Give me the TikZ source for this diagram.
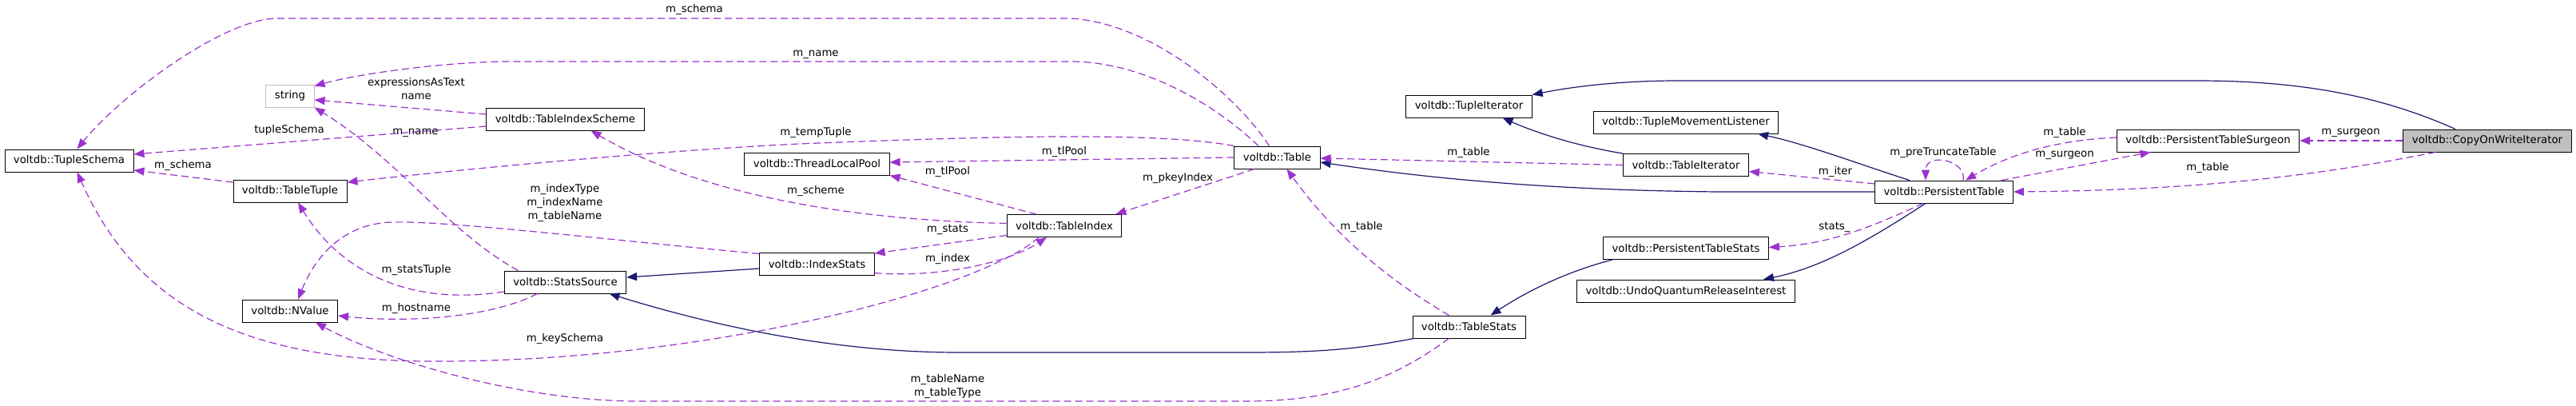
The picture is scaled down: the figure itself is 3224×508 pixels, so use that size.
\documentclass[tikz,border=0pt]{standalone}
\usepackage{fontspec}
\setmainfont{DejaVu Sans}
\usepackage{tikz}
\usetikzlibrary{positioning, arrows.meta}
\usepackage{xcolor}

\definecolor{edgeuse}{HTML}{9A32CD}
\definecolor{edgeinh}{HTML}{191970}
\definecolor{nodegray}{HTML}{BFBFBF}
\newcommand{\dgfont}{\fontsize{13.3}{17}\selectfont}

\tikzset{
    cls/.style={draw=black, line width=0.9pt, rectangle, minimum height=28pt,
        inner xsep=11pt, inner ysep=0pt, font=\dgfont},
    extcls/.style={cls, draw=nodegray},
    curcls/.style={cls, fill=nodegray},
    lbl/.style={font=\dgfont, inner sep=0pt, align=center},
    useedge/.style={draw=edgeuse, line width=1.2pt, dash pattern=on 9pt off 5pt,
        -{Triangle[length=13pt, width=10pt]}},
    inhedge/.style={draw=edgeinh, line width=1.2pt,
        -{Triangle[length=13pt, width=10pt]}}
}

\begin{document}
\begin{tikzpicture}[x=1pt, y=-1pt, on grid]
    \useasboundingbox (0,0) rectangle (3224,508);

    \node[cls] (tschema) at (86.5,201) {voltdb::TupleSchema};
    \node[extcls] (str) [above right=81pt and 276.5pt of tschema] {string};
    \node[cls] (ttuple) [below=119pt of str] {voltdb::TableTuple};
    \node[cls] (nvalue) [below=150pt of ttuple] {voltdb::NValue};
    \node[cls] (idxscheme) [below right=29pt and 344.5pt of str] {voltdb::TableIndexScheme};
    \node[cls] (statssrc) [below=204pt of idxscheme] {voltdb::StatsSource};
    \node[cls] (tlpool) [below right=56pt and 315pt of idxscheme] {voltdb::ThreadLocalPool};
    \node[cls] (idxstats) [below=125.5pt of tlpool] {voltdb::IndexStats};
    \node[cls] (tindex) [above right=48pt and 309.5pt of idxstats] {voltdb::TableIndex};
    \node[cls] (table) [above right=85.5pt and 266.5pt of tindex] {voltdb::Table};
    \node[cls] (tstats) [below right=212pt and 240pt of table] {voltdb::TableStats};
    \node[cls] (tupleit) [above=276pt of tstats] {voltdb::TupleIterator};
    \node[cls] (tableit) [below right=73.5pt and 271.5pt of tupleit] {voltdb::TableIterator};
    \node[cls] (tmlistener) [above=53.5pt of tableit] {voltdb::TupleMovementListener};
    \node[cls] (ptstats) [below=104pt of tableit] {voltdb::PersistentTableStats};
    \node[cls] (uqri) [below=53.5pt of ptstats] {voltdb::UndoQuantumReleaseInterest};
    \node[cls] (ptable) [below right=33.5pt and 323pt of tableit] {voltdb::PersistentTable};
    \node[cls] (surgeon) [above right=64pt and 330.5pt of ptable] {voltdb::PersistentTableSurgeon};
    \node[curcls] (cow) [right=349.5pt of surgeon] {voltdb::CopyOnWriteIterator};

    % member labels
    \node[lbl] (l-tschema) at (869,12) {m\_schema};
    \node[lbl] (l-tname) at (1021,68) {m\_name};
    \node[lbl] (l-exprs) at (521,111.5) {expressionsAsText\\name};
    \node[lbl] (l-ssname) at (520,166) {m\_name};
    \node[lbl] (l-tupschema) at (362,163) {tupleSchema};
    \node[lbl] (l-ttschema) at (229,207) {m\_schema};
    \node[lbl] (l-temptuple) at (1021,166) {m\_tempTuple};
    \node[lbl] (l-tlpool) at (1332,190) {m\_tlPool};
    \node[lbl] (l-itlpool) at (1186,215) {m\_tlPool};
    \node[lbl] (l-scheme) at (1021,239) {m\_scheme};
    \node[lbl] (l-pkey) at (1474,223) {m\_pkeyIndex};
    \node[lbl] (l-stats) at (1186,287) {m\_stats};
    \node[lbl] (l-index) at (1186,324) {m\_index};
    \node[lbl] (l-idxnames) at (707,254) {m\_indexType\\m\_indexName\\m\_tableName};
    \node[lbl] (l-statstuple) at (521,338) {m\_statsTuple};
    \node[lbl] (l-host) at (521,386) {m\_hostname};
    \node[lbl] (l-keyschema) at (707,424) {m\_keySchema};
    \node[lbl] (l-tnames) at (1186,483.5) {m\_tableName\\m\_tableType};
    \node[lbl] (l-ststable) at (1704,284) {m\_table};
    \node[lbl] (l-ittable) at (1838,191) {m\_table};
    \node[lbl] (l-iter) at (2297,215) {m\_iter};
    \node[lbl] (l-pretrunc) at (2432,191) {m\_preTruncateTable};
    \node[lbl] (l-pstats) at (2296,284) {stats\_};
    \node[lbl] (l-sgtable) at (2584,166) {m\_table};
    \node[lbl] (l-ptsurgeon) at (2584,194) {m\_surgeon};
    \node[lbl] (l-cowsurgeon) at (2942,166) {m\_surgeon};
    \node[lbl] (l-cowtable) at (2763,210) {m\_table};

    % inheritance
    \draw[inhedge] ([yshift=-5.5pt]idxstats.west) -- ([yshift=6pt]statssrc.east);
    \draw[inhedge] ([xshift=2pt]tstats.south west) .. controls (1700,437) and (1650,441) .. (1560,441)
        -- (1200,441) .. controls (1050,441) and (900,410) .. ([xshift=55pt]statssrc.south);
    \draw[inhedge] (tableit.north west) .. controls (1970,182) and (1920,165) .. ([xshift=42pt]tupleit.south);
    \draw[inhedge] (ptable.west) -- (2150,240) .. controls (1950,238) and (1800,225) .. ([yshift=-6pt]table.east);
    \draw[inhedge] ([xshift=-43pt]ptable.north) .. controls (2340,210) and (2260,180) .. ([xshift=90pt]tmlistener.south);
    \draw[inhedge] ([xshift=-23pt]ptable.south) .. controls (2340,300) and (2280,335) .. ([xshift=97pt]uqri.north);
    \draw[inhedge] ([xshift=12pt]ptstats.south west) .. controls (1960,340) and (1910,365) .. ([xshift=27pt]tstats.north);
    \draw[inhedge] ([xshift=-40pt]cow.north) .. controls (2980,120) and (2880,101) .. (2750,101)
        -- (2100,101) .. controls (2020,101) and (1960,110) .. (tupleit.north east);

    % usage
    \draw[useedge] ([xshift=-10pt]table.north) .. controls (1555,130) and (1450,30) .. (1340,23)
        -- (347,23) .. controls (280,23) and (150,120) .. ([xshift=10pt]tschema.north);
    \draw[useedge] ([xshift=-23.5pt]table.north) .. controls (1520,130) and (1430,77) .. (1340,77)
        -- (640,77) .. controls (560,77) and (450,92) .. ([yshift=-2pt]str.north east);
    \draw[useedge] ([yshift=6pt]idxscheme.west) -- ([yshift=-5pt]str.east);
    \draw[useedge] ([xshift=-59pt]statssrc.north) .. controls (560,290) and (500,200) .. (str.south east);
    \draw[useedge] ([yshift=-9pt]idxscheme.west) -- ([yshift=8pt]tschema.east);
    \draw[useedge] ([yshift=11pt]ttuple.west) -- ([yshift=-12pt]tschema.east);
    \draw[useedge] (table.north west) .. controls (1450,165) and (1250,170) .. (1000,180)
        .. controls (800,190) and (550,215) .. ([yshift=11pt]ttuple.east);
    \draw[useedge] (table.west) -- ([yshift=2pt]tlpool.east);
    \draw[useedge] ([xshift=-35pt]tindex.north) -- (tlpool.south east);
    \draw[useedge] ([yshift=3pt]tindex.west) .. controls (1050,275) and (870,240) .. ([xshift=32pt]idxscheme.south);
    \draw[useedge] ([xshift=-28.5pt]table.south) -- ([xshift=-8pt]tindex.north east);
    \draw[useedge] ([yshift=-12pt]tindex.west) -- ([yshift=13.5pt]idxstats.east);
    \draw[useedge] ([yshift=-11pt]idxstats.east) .. controls (1170,348) and (1260,330) .. ([xshift=-22pt]tindex.south);
    \draw[useedge] ([yshift=13pt]idxstats.west) .. controls (750,299) and (560,276) .. (490,278)
        .. controls (430,280) and (395,320) .. ([xshift=10pt]nvalue.north);
    \draw[useedge] ([yshift=-12pt]statssrc.west) .. controls (500,385) and (420,330) .. ([xshift=10pt]ttuple.south);
    \draw[useedge] ([xshift=-35pt]statssrc.south) .. controls (620,395) and (520,405) .. ([yshift=-6pt]nvalue.east);
    \draw[useedge] ([xshift=-32pt]tindex.south) .. controls (1230,360) and (900,450) .. (560,452)
        .. controls (300,455) and (170,380) .. ([xshift=10pt]tschema.south);
    \draw[useedge] ([xshift=-25pt]tstats.south) .. controls (1750,470) and (1680,502) .. (1560,502)
        -- (800,502) .. controls (650,502) and (480,450) .. ([xshift=32pt]nvalue.south);
    \draw[useedge] ([xshift=-25pt]tstats.north) .. controls (1720,340) and (1660,280) .. ([xshift=12pt]table.south);
    \draw[useedge] (tableit.west) -- ([yshift=-1pt]table.east);
    \draw[useedge] ([yshift=10pt]ptable.west) -- ([yshift=-8pt]tableit.east);
    \draw[useedge] ([xshift=24pt]ptable.north) .. controls (2462,200) and (2410,190) .. ([xshift=-23pt]ptable.north);
    \draw[useedge] ([xshift=-26pt]ptable.south) .. controls (2340,285) and (2290,305) .. ([yshift=1pt]ptstats.east);
    \draw[useedge] ([yshift=4pt]surgeon.west) .. controls (2580,175) and (2520,190) .. ([xshift=27pt]ptable.north);
    \draw[useedge] ([xshift=-15pt]ptable.north east) -- ([xshift=-72pt]surgeon.south);
    \draw[useedge] (cow.west) -- (surgeon.east);
    \draw[useedge] ([xshift=-65pt]cow.south) .. controls (2900,220) and (2750,238) .. (ptable.east);
\end{tikzpicture}
\end{document}
